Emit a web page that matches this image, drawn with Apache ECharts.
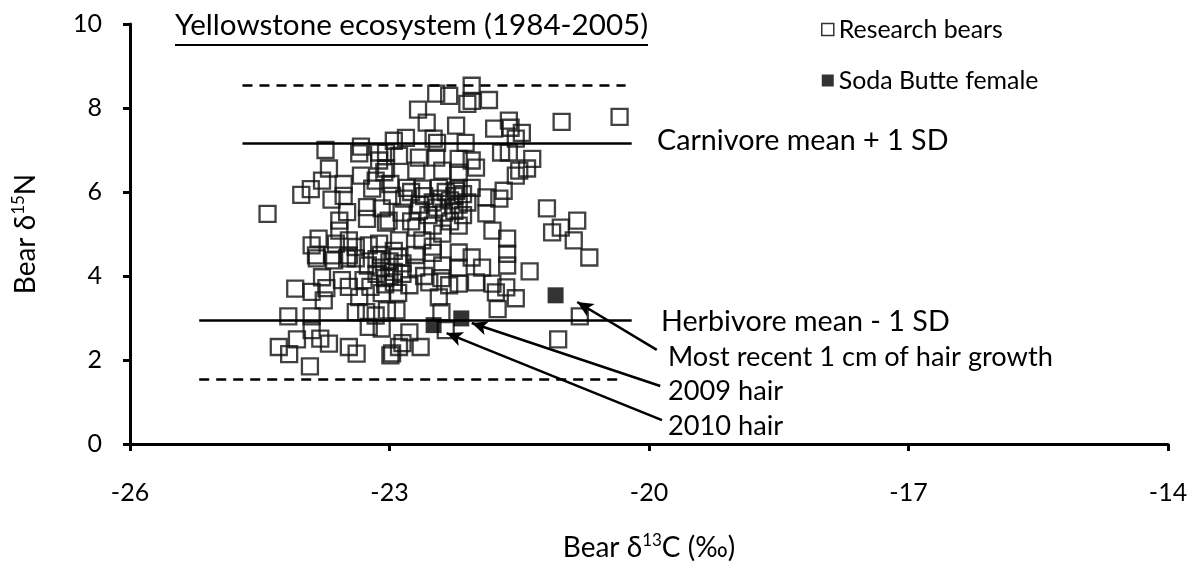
<!DOCTYPE html>
<html>
<head>
<meta charset="utf-8">
<script src="https://cdn.jsdelivr.net/npm/echarts@6/dist/echarts.min.js"></script>
<style>
  html, body { margin: 0; padding: 0; background: #fff; }
  #chart { width: 1193px; height: 571px; }
</style>
</head>
<body>
<div id="chart"></div>
<script>
// Research bears, [d13C, d15N]
var researchBears = [
  [-23.74,7.00],[-23.33,7.08],[-23.35,6.92],[-23.12,6.94],[-22.95,7.22],[-23.12,6.75],[-23.70,6.56],[-23.33,6.39],
  [-23.78,6.27],[-23.91,6.07],[-24.02,5.93],[-23.53,6.19],[-23.53,5.91],[-23.16,6.27],[-23.06,6.47],[-23.20,6.08],
  [-22.99,6.19],[-22.97,5.91],[-23.67,5.82],[-24.41,5.48],[-23.49,5.52],[-23.26,5.64],[-23.26,5.36],[-23.58,5.32],
  [-23.58,5.08],[-23.09,5.61],[-23.01,5.32],[-23.82,4.89],[-23.90,4.73],[-23.62,4.77],[-23.47,4.85],[-23.39,4.69],
  [-23.24,4.73],[-23.12,4.77],[-23.85,4.49],[-23.66,4.49],[-23.47,4.49],
  [-23.84,4.42],[-23.64,4.37],[-23.49,4.42],[-23.39,4.42],[-23.78,3.97],[-24.09,3.70],[-23.90,3.62],[-23.73,3.71],
  [-23.76,3.42],[-23.55,3.90],[-23.47,3.74],[-23.35,3.50],[-23.22,3.74],[-23.39,3.14],[-23.27,3.14],[-23.16,3.06],
  [-23.03,3.18],[-24.17,3.04],[-23.90,3.04],[-23.90,2.71],[-24.07,2.49],[-24.28,2.31],[-24.16,2.14],[-23.80,2.51],
  [-23.70,2.39],[-23.47,2.31],[-23.38,2.15],[-23.24,2.79],[-23.09,2.75],[-22.99,2.11],[-23.92,1.85],[-22.89,2.31],
  [-23.09,3.59],[-23.25,4.25],[-23.15,4.05],[-23.05,3.95],[-23.30,3.90],
  [-22.05,8.53],[-22.05,8.17],[-22.10,8.10],[-22.46,8.34],[-22.31,8.29],[-21.85,8.19],[-22.67,7.96],[-22.57,7.65],
  [-22.23,7.58],[-21.79,7.51],[-21.62,7.70],[-21.60,7.53],[-21.47,7.41],[-21.01,7.67],[-20.34,7.79],[-22.81,7.29],
  [-22.49,7.27],[-22.45,7.17],[-22.12,7.17],[-21.71,6.94],[-21.62,6.94],[-21.54,7.27],[-23.04,6.94],[-22.89,6.86],
  [-22.66,6.82],[-22.46,6.82],[-22.20,6.79],[-22.05,6.75],[-22.00,6.58],[-21.35,6.79],[-21.50,6.51],[-21.41,6.56],
  [-21.54,6.39],[-23.04,6.56],[-22.69,6.51],[-22.39,6.51],[-22.20,6.46],[-22.80,6.10],[-22.62,6.08],[-22.43,6.10],
  [-22.23,6.03],[-22.05,6.10],[-22.40,5.84],[-22.83,5.84],[-22.45,5.63],[-22.37,5.51],[-21.88,5.87],[-21.68,6.03],
  [-21.73,5.84],[-21.88,5.49],[-21.81,5.08],[-21.64,4.89],[-21.64,4.53],[-21.18,5.61],[-21.12,5.04],[-21.02,5.15],
  [-20.83,5.32],[-20.87,4.85],[-20.69,4.44],[-22.86,5.51],[-22.66,5.56],[-22.39,5.01],[-22.69,5.15],[-22.89,4.85],
  [-22.62,4.85],[-22.20,4.56],[-22.05,4.44],[-23.04,5.27],
  [-22.75,6.00],[-22.60,5.90],[-22.50,5.75],[-22.30,5.80],[-22.20,5.70],[-22.15,5.95],[-22.65,5.70],[-22.55,5.45],
  [-22.75,5.30],[-22.30,5.30],[-22.50,5.20],[-22.20,5.20],
  [-21.38,4.11],[-21.54,3.47],[-21.75,3.21],[-21.05,2.49],[-20.80,3.04],[-22.35,2.71],[-22.40,3.14],[-22.77,2.66],
  [-22.85,2.40],[-22.64,2.31],[-22.97,2.16],[-22.43,3.49],[-21.64,4.25],[-21.93,4.20],[-21.81,3.82],[-21.65,3.73],
  [-21.77,3.61],[-22.20,4.20],[-22.39,4.25],[-22.69,4.20],[-22.77,3.78],[-22.54,3.85],[-22.31,3.78],[-22.20,3.82],
  [-22.00,3.85],[-22.92,3.18],
  [-23.00,4.35],[-22.95,4.10],[-23.05,3.80],[-22.90,3.60],[-23.10,4.50],[-22.95,4.60],[-22.85,4.30],[-22.70,4.50],
  [-22.50,4.55],[-22.60,4.00],[-22.40,3.95],[-22.50,4.70],
  [-23.00,4.00],[-22.95,3.85],[-23.10,4.20],[-22.85,4.05],[-22.90,4.45],[-23.15,4.40],[-22.25,5.90],[-22.10,5.75],
  [-22.20,6.10],[-22.35,6.00],[-22.25,5.55],[-22.15,5.45]
];

// Soda Butte female, [d13C, d15N]
var sodaButte = [[-21.08,3.54],[-22.17,2.99],[-22.49,2.83]];

var xTicks = { min: -26, max: -14, step: 3 };
var yTicks = { min: 0, max: 10, step: 2 };

// reference levels: [start x, end x, y]
var carnivoreSD = [-24.7, -20.2, 7.15];
var carnivoreDash = [-24.7, -20.27, 8.55];
var herbivoreSD = [-25.2, -20.2, 2.95];
var herbivoreDash = [-25.2, -20.33, 1.55];

// annotation arrows: [from x, from y, to x, to y]
var arrowRecent = [-19.91, 2.24, -20.83, 3.38];
var arrow2009 = [-19.87, 1.38, -22.05, 2.88];
var arrow2010 = [-19.85, 0.57, -22.34, 2.64];

var FONT = 'Lato';
var titleText = 'Yellowstone ecosystem (1984-2005)';

// font size that makes a text span a given width
var measureCtx = document.createElement('canvas').getContext('2d');
function fitSize(text, width) {
  measureCtx.font = '100px ' + FONT;
  return Math.round(1000 * width / measureCtx.measureText(text).width) / 10;
}
var titleSize = fitSize(titleText, 473);
var labelSize = fitSize('Carnivore mean + 1 SD', 292);
var noteSize = fitSize('Most recent 1 cm of hair growth', 385);
var legendSize = fitSize('Soda Butte female', 200);

var chart = echarts.init(document.getElementById('chart'));

function hline(r, type) {
  return [
    { coord: [r[0], r[2]], symbol: 'none', lineStyle: { color: '#000', width: 2.5, type: type } },
    { coord: [r[1], r[2]], symbol: 'none' }
  ];
}
function arrow(a) {
  return [
    { coord: [a[0], a[1]], symbol: 'none', lineStyle: { color: '#000', width: 2.5, type: 'solid' } },
    { coord: [a[2], a[3]], symbol: 'arrow', symbolSize: [11, 16] }
  ];
}
function note(text, x, y, size) {
  return { type: 'text', x: x, y: y, style: { text: text, font: size + 'px ' + FONT, fill: '#000', verticalAlign: 'middle', align: 'left' } };
}

var option = {
  animation: false,
  backgroundColor: '#fff',
  grid: { left: 130, right: 25, top: 24, bottom: 127 },
  legend: {
    orient: 'vertical',
    left: 816,
    top: 12,
    itemGap: 26,
    itemWidth: 12,
    itemHeight: 12,
    textStyle: { fontFamily: FONT, fontSize: legendSize, color: '#000' },
    data: [
      { name: 'Research bears', icon: 'rect', itemStyle: { color: '#fff', borderColor: '#000', borderWidth: 1.5 } },
      { name: 'Soda Butte female', icon: 'rect', itemStyle: { color: '#000' } }
    ]
  },
  xAxis: {
    type: 'value',
    min: xTicks.min,
    max: xTicks.max,
    interval: xTicks.step,
    axisLine: { show: true, onZero: false, lineStyle: { color: '#000', width: 3 } },
    axisTick: { show: true, length: 7, lineStyle: { color: '#000', width: 3 } },
    axisLabel: { fontFamily: FONT, fontSize: 25, color: '#000', margin: 36 },
    splitLine: { show: false },
    name: '{a|Bear δ}{s|13}{a|C (‰)}',
    nameLocation: 'middle',
    nameGap: 88,
    nameTextStyle: {
      rich: {
        a: { fontFamily: FONT, fontSize: 28, color: '#000', lineHeight: 32 },
        s: { fontFamily: FONT, fontSize: 17, color: '#000', lineHeight: 17, verticalAlign: 'top' }
      }
    }
  },
  yAxis: {
    type: 'value',
    min: yTicks.min,
    max: yTicks.max,
    interval: yTicks.step,
    axisLine: { show: true, lineStyle: { color: '#000', width: 3 } },
    axisTick: { show: true, length: 7, lineStyle: { color: '#000', width: 3 } },
    axisLabel: { fontFamily: FONT, fontSize: 25, color: '#000', margin: 28 },
    splitLine: { show: false },
    name: '{a|Bear δ}{s|15}{a|N}',
    nameLocation: 'middle',
    nameRotate: 90,
    nameGap: 88,
    nameTextStyle: {
      rich: {
        a: { fontFamily: FONT, fontSize: 28, color: '#000', lineHeight: 32 },
        s: { fontFamily: FONT, fontSize: 17, color: '#000', lineHeight: 17, verticalAlign: 'top' }
      }
    }
  },
  series: [
    {
      name: 'Research bears',
      type: 'scatter',
      symbol: 'rect',
      symbolSize: 16,
      itemStyle: { color: 'rgba(255,255,255,0)', borderColor: '#111', borderWidth: 2.3 },
      data: researchBears,
      z: 3
    },
    {
      name: 'Soda Butte female',
      type: 'scatter',
      symbol: 'rect',
      symbolSize: 16,
      itemStyle: { color: '#000' },
      data: sodaButte,
      z: 4
    },
    {
      name: 'refs',
      type: 'scatter',
      data: [],
      markLine: {
        silent: true,
        symbol: ['none', 'none'],
        label: { show: false },
        lineStyle: { color: '#000', width: 2.5, type: 'solid' },
        data: [
          hline(carnivoreDash, [10, 7]),
          hline(carnivoreSD, 'solid'),
          hline(herbivoreSD, 'solid'),
          hline(herbivoreDash, [10, 7]),
          arrow(arrowRecent),
          arrow(arrow2009),
          arrow(arrow2010)
        ]
      }
    }
  ],
  graphic: [
    note(titleText, 175, 25, titleSize),
    { type: 'line', shape: { x1: 175, y1: 45, x2: 648, y2: 45 }, style: { stroke: '#000', lineWidth: 2 } },
    note('Carnivore mean + 1 SD', 657, 141, labelSize),
    note('Herbivore mean - 1 SD', 661, 322, labelSize),
    note('Most recent 1 cm of hair growth', 668, 357, noteSize),
    note('2009 hair', 668, 391, noteSize),
    note('2010 hair', 668, 426, noteSize)
  ]
};

chart.setOption(option);
</script>
</body>
</html>
